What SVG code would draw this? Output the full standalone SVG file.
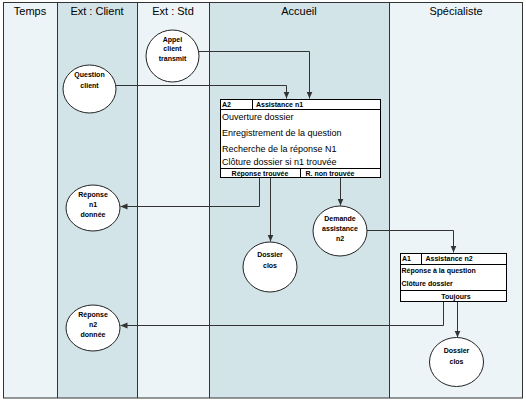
<svg xmlns="http://www.w3.org/2000/svg" width="526" height="402" viewBox="0 0 526 402">
<defs>
<style>
.lt{fill:#ECF4F7}
.dk{fill:#D3E4E9}
.div{stroke:#333;stroke-width:1;fill:none}
.hd{font-family:"Liberation Sans",Arial,sans-serif;font-size:11px;fill:#000;text-anchor:middle}
.nd{fill:#fff;stroke:#222;stroke-width:1}
.bx{fill:#fff;stroke:#000;stroke-width:1}
.ln{stroke:#000;stroke-width:1;fill:none}
.b{font-family:"Liberation Sans",Arial,sans-serif;font-size:7px;font-weight:bold;fill:#000}
.c{text-anchor:middle}
.r{font-family:"Liberation Sans",Arial,sans-serif;font-size:9px;fill:#000}
.cn{stroke:#333;stroke-width:1;fill:none;marker-end:url(#ah)}
</style>
<marker id="ah" markerUnits="userSpaceOnUse" markerWidth="7" markerHeight="7" viewBox="0 0 7 7" refX="7" refY="3.5" orient="auto">
<path d="M0,0.5 L7,3.5 L0,6.5 z" fill="#333"/>
</marker>
</defs>
<rect x="0" y="0" width="526" height="402" fill="#fff"/>
<g id="lanes">
<rect class="lt" x="3.5" y="2.5" width="53.5" height="395.5"/>
<rect class="dk" x="57" y="2.5" width="80" height="395.5"/>
<rect class="lt" x="137" y="2.5" width="72" height="395.5"/>
<rect class="dk" x="209" y="2.5" width="180" height="395.5"/>
<rect class="lt" x="389" y="2.5" width="133.5" height="395.5"/>
<path class="div" d="M57.5,2.5V398 M137.5,2.5V398 M209.5,2.5V398 M389.5,2.5V398"/>
<rect x="3.5" y="2.5" width="519" height="395.5" fill="none" stroke="#333" stroke-width="1"/>
<text class="hd" x="30" y="15">Temps</text>
<text class="hd" x="97" y="15">Ext : Client</text>
<text class="hd" x="173" y="15">Ext : Std</text>
<text class="hd" x="299" y="15">Accueil</text>
<text class="hd" x="456" y="15">Spécialiste</text>
</g>
<g id="connectors">
<path class="cn" d="M199,51.5 H309.5 V98.5"/>
<path class="cn" d="M116,85.5 H286.5 V98.5"/>
<path class="cn" d="M259.5,177.5 V206.5 H120.5"/>
<path class="cn" d="M270.5,177.5 V241.5"/>
<path class="cn" d="M340.5,177.5 V205.5"/>
<path class="cn" d="M367,230.5 H453.5 V252.5"/>
<path class="cn" d="M443.5,302 V325.5 H120.5"/>
<path class="cn" d="M457.5,302 V337.5"/>
</g>
<g id="appel">
<ellipse class="nd" cx="172.5" cy="56" rx="26.5" ry="26"/>
<text class="b c" x="172.5" y="41.5">Appel</text>
<text class="b c" x="172.5" y="51">client</text>
<text class="b c" x="172.5" y="61">transmit</text>
</g>
<g id="question">
<ellipse class="nd" cx="89.5" cy="89" rx="26.5" ry="24"/>
<text class="b c" x="89.5" y="77">Question</text>
<text class="b c" x="89.5" y="87.5">client</text>
</g>
<g id="a2">
<rect class="bx" x="220.5" y="99.5" width="160" height="78"/>
<path class="ln" d="M220.5,109.5H380.5 M252.5,99.5V109.5 M220.5,168.5H380.5 M300.5,168.5V177.5"/>
<text class="b" x="222" y="107">A2</text>
<text class="b" x="256" y="107">Assistance n1</text>
<text class="r" x="222" y="119.5">Ouverture dossier</text>
<text class="r" x="222" y="136">Enregistrement de la question</text>
<text class="r" x="222" y="152">Recherche de la réponse N1</text>
<text class="r" x="222" y="164.5">Clôture dossier si n1 trouvée</text>
<text class="b c" x="260" y="176">Réponse trouvée</text>
<text class="b c" x="330" y="176">R. non trouvée</text>
</g>
<g id="reponse-n1">
<ellipse class="nd" cx="93" cy="208" rx="27" ry="23"/>
<text class="b c" x="93" y="197">Réponse</text>
<text class="b c" x="93" y="207">n1</text>
<text class="b c" x="93" y="217">donnée</text>
</g>
<g id="dossier-clos-1">
<ellipse class="nd" cx="270" cy="267" rx="27" ry="25"/>
<text class="b c" x="270" y="256.5">Dossier</text>
<text class="b c" x="270" y="268">clos</text>
</g>
<g id="demande">
<ellipse class="nd" cx="340" cy="231" rx="27" ry="25"/>
<text class="b c" x="340" y="220.5">Demande</text>
<text class="b c" x="340" y="230.5">assistance</text>
<text class="b c" x="340" y="241">n2</text>
</g>
<g id="a1">
<rect class="bx" x="400.5" y="253.5" width="106" height="48"/>
<path class="ln" d="M400.5,264.5H506.5 M421.5,253.5V264.5 M400.5,290.5H506.5"/>
<text class="b" x="402" y="261">A1</text>
<text class="b" x="425.5" y="261">Assistance n2</text>
<text class="b" x="401.5" y="273">Réponse à la question</text>
<text class="b" x="401.5" y="286">Clôture dossier</text>
<text class="b c" x="456" y="298.5">Toujours</text>
</g>
<g id="reponse-n2">
<ellipse class="nd" cx="93" cy="328" rx="27" ry="23"/>
<text class="b c" x="93" y="317">Réponse</text>
<text class="b c" x="93" y="326.5">n2</text>
<text class="b c" x="93" y="336.5">donnée</text>
</g>
<g id="dossier-clos-2">
<ellipse class="nd" cx="456.5" cy="362" rx="27" ry="24.5"/>
<text class="b c" x="456.5" y="353">Dossier</text>
<text class="b c" x="456.5" y="364">clos</text>
</g>
</svg>
